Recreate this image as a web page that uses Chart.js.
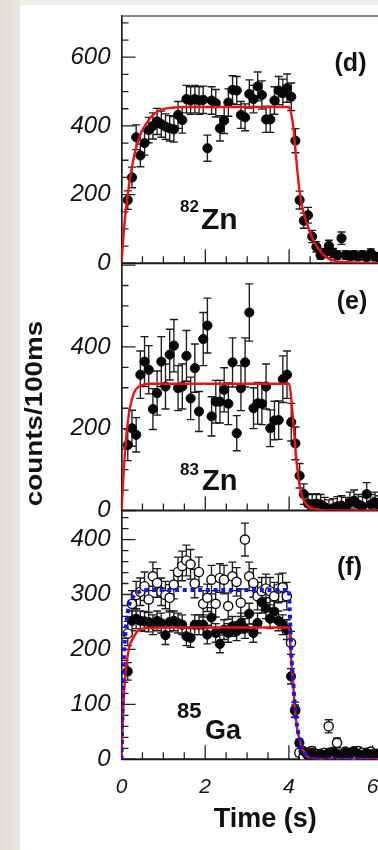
<!DOCTYPE html>
<html>
<head>
<meta charset="utf-8">
<script src="https://cdn.jsdelivr.net/npm/chart.js@4.4.1/dist/chart.umd.min.js"></script>
<style>
  html, body { margin: 0; padding: 0; }
  body { width: 378px; height: 850px; overflow: hidden; position: relative; background: #efeeea; }
  #strip { position: absolute; left: 0; top: 0; width: 20px; height: 850px; background: linear-gradient(90deg, #e0ddd3, #e8e6de); }
  #sheet { position: absolute; left: 20px; top: 5px; width: 420px; height: 845px; background: #fff; }
  canvas { position: absolute; left: 0; }
</style>
</head>
<body>
<div id="strip"></div>
<div id="sheet"></div>
<canvas id="panelD" width="415" height="290" style="top:0px"></canvas>
<canvas id="panelE" width="415" height="300" style="top:240px"></canvas>
<canvas id="panelF" width="415" height="360" style="top:490px"></canvas>
<script>
Chart.defaults.font.family = "'Liberation Sans', Arial, Helvetica, sans-serif";
Chart.defaults.color = '#151515';

// 100 ms bin centres (s)
const bins = [0.05, 0.15, 0.25, 0.35, 0.45, 0.55, 0.65, 0.75, 0.85, 0.95,
  1.05, 1.15, 1.25, 1.35, 1.45, 1.55, 1.65, 1.75, 1.85, 1.95,
  2.05, 2.15, 2.25, 2.35, 2.45, 2.55, 2.65, 2.75, 2.85, 2.95,
  3.05, 3.15, 3.25, 3.35, 3.45, 3.55, 3.65, 3.75, 3.85, 3.95,
  4.05, 4.15, 4.25, 4.35, 4.45, 4.55, 4.65, 4.75, 4.85, 4.95,
  5.05, 5.15, 5.25, 5.35, 5.45, 5.55, 5.65, 5.75, 5.85, 5.95,
  6.05, 6.15, 6.25, 6.35, 6.45, 6.55, 6.65, 6.75];

// (d) 82Zn
const zn82 = [null, 184, 250, 367, 314, 350, 388, 400, 413, 405,
  398, 393, 390, 432, 417, 478, 474, 478, 474, 476,
  335, 474, 466, 393, 416, 468, 505, 503, 432, 425,
  493, 478, 515, 490, 419, 419, 474, 503, 495, 510,
  485, 357, 184, 124, 140, 78, 48, 24, 30, 51,
  30, 24, 73, 24, 22, 24, 20, 24, 18, 29,
  20, 15, 22, 12, 18, 10, 14, 9];
const zn82Err = [null, 27, 30, 36, 33, 35, 37, 38, 38, 38,
  37, 37, 37, 39, 38, 40, 40, 40, 40, 40,
  38, 40, 40, 37, 38, 40, 41, 41, 39, 39,
  41, 40, 42, 41, 38, 38, 40, 41, 41, 41,
  40, 35, 26, 22, 23, 18, 15, 12, 13, 16,
  13, 12, 18, 12, 12, 12, 11, 12, 11, 13,
  11, 10, 12, 9, 11, 8, 10, 8];

// (e) 83Zn
const zn83 = [null, 160, 201, 185, 332, 364, 344, 248, 287, 364,
  303, 381, 403, 299, 303, 378, 274, 348, 242, 419,
  452, 230, 266, 266, 295, 261, 362, 189, 299, 362,
  484, 250, 262, 261, 303, 201, 220, 221, 321, 332,
  216, 164, 85, 40, 17, 15, 17, 15, 8, 2,
  5, 10, 12, 8, 20, 24, 15, 10, 40, 15,
  20, 12, 25, 8, 18, 10, 15, 6];
const zn83Err = [null, 38, 44, 42, 58, 61, 59, 50, 54, 61,
  55, 62, 64, 55, 55, 62, 52, 59, 49, 65,
  67, 48, 52, 52, 54, 51, 60, 43, 55, 60,
  70, 50, 51, 51, 55, 45, 47, 47, 57, 58,
  46, 40, 30, 25, 24, 24, 24, 24, 24, 24,
  24, 24, 24, 24, 25, 26, 24, 24, 28, 24,
  25, 24, 26, 24, 25, 24, 24, 24];

// (f) 85Ga, filled and open markers
const ga85Filled = [null, 160, 252, 256, 252, 251, 250, 245, 252, 248,
  226, 250, 252, 248, 245, 224, 221, 245, 245, 245,
  227, 258, 230, 210, 236, 230, 242, 233, 248, 238,
  265, 230, 248, 286, 275, 256, 269, 252, 245, 236,
  151, 88, 30, 15, 8, 12, 5, 10, 8, 12,
  14, 10, 6, 12, 8, 15, 10, 8, 12, 9,
  7, 11, 6, 9, 5, 8, 6, 4];
const ga85FilledErr = [null, 16, 18, 18, 18, 18, 18, 18, 18, 18,
  17, 18, 18, 18, 18, 17, 17, 18, 18, 18,
  17, 18, 17, 16, 18, 17, 18, 17, 18, 18,
  19, 17, 18, 20, 19, 18, 19, 18, 18, 18,
  14, 11, 7, 6, 5, 5, 4, 5, 5, 5,
  6, 5, 4, 5, 5, 6, 5, 5, 5, 5,
  4, 5, 4, 5, 4, 5, 4, 4];
const ga85Open = [null, 229, 283, 299, 305, 315, 291, 333, 321, 305,
  299, 294, 318, 341, 352, 362, 355, 320, 341, 283,
  294, 327, 283, 330, 327, 279, 333, 323, 285, 400,
  333, 321, 297, 306, 311, 306, 297, 311, 313, 297,
  212, 90, 12, 5, 8, 15, 10, 6, 12, 60,
  10, 30, 8, 14, 10, 6, 15, 12, 8, 14,
  10, 7, 12, 5, 9, 11, 6, 8];
const ga85OpenErr = [null, 22, 24, 25, 25, 26, 24, 26, 26, 25,
  25, 24, 26, 27, 27, 28, 27, 26, 27, 24,
  25, 26, 24, 26, 26, 24, 26, 26, 25, 30,
  26, 26, 25, 25, 26, 25, 25, 26, 26, 25,
  21, 14, 6, 4, 5, 7, 5, 4, 6, 12,
  5, 9, 5, 6, 5, 4, 7, 6, 5, 6,
  5, 4, 6, 4, 5, 5, 4, 5];

// fitted growth/decay curves
const fitDTime = [0, 0.05, 0.1, 0.15, 0.2, 0.25, 0.3, 0.4, 0.5, 0.6, 0.7, 0.8, 1.0, 1.2, 1.5, 2.0,
  4.0, 4.05, 4.1, 4.15, 4.2, 4.25, 4.3, 4.35, 4.45, 4.55, 4.7, 4.9, 5.1, 5.4, 6.0, 6.9];
const fitDValue = [0, 85, 150, 200, 245, 280, 312, 357, 388, 408, 425, 437, 449, 453, 455, 455,
  455, 435, 398, 330, 265, 210, 172, 145, 107, 74, 42, 16, 7, 3, 0.5, 0];
const fitETime = [0, 0.05, 0.1, 0.15, 0.2, 0.3, 0.4, 0.5, 0.7, 4.0, 4.04, 4.08, 4.12, 4.16, 4.2,
  4.25, 4.3, 4.37, 4.45, 4.55, 4.7, 5.0, 6.9];
const fitEValue = [0, 90, 165, 215, 250, 288, 302, 307, 310, 310, 285, 240, 190, 140, 100,
  62, 38, 21, 11, 5, 1.5, 0, 0];
const fitFRedTime = [0, 0.05, 0.1, 0.15, 0.2, 0.28, 0.35, 0.43, 0.6, 1.0, 4.0, 4.03, 4.06, 4.1,
  4.14, 4.2, 4.25, 4.3, 4.37, 4.45, 4.6, 5.0, 6.9];
const fitFRedValue = [0, 105, 160, 190, 208, 221, 230, 236, 239, 240, 240, 215, 175, 140,
  95, 55, 38, 24, 12, 4, 1, 0, 0];
const fitFBlueTime = [0, 0.03, 0.06, 0.1, 0.15, 0.2, 0.3, 0.4, 0.5, 0.7, 4.0, 4.02, 4.06, 4.1,
  4.14, 4.2, 4.25, 4.3, 4.37, 4.45, 4.6, 5.0, 6.9];
const fitFBlueValue = [0, 120, 190, 235, 268, 285, 298, 304, 307, 308, 308, 270, 190, 145,
  100, 58, 40, 25, 13, 4, 1, 0, 0];

// labelled axis values
const yTicksD = [0, 200, 400, 600];
const yTicksE = [0, 200, 400];
const yTicksF = [0, 100, 200, 300, 400];
const xTicks = [0, 2, 4, 6];

function markers(values, errors) {
  const out = [];
  values.forEach((v, i) => {
    if (v !== null) out.push({ x: bins[i], y: v, err: errors[i] });
  });
  return out;
}
function curve(ts, vs) {
  return ts.map((t, i) => ({ x: t, y: vs[i] }));
}

const RED = '#ee1111';
const BLUE = '#1414ee';

function fitLine(data, color, dashed) {
  return {
    data, showLine: true, pointRadius: 0, pointHoverRadius: 0,
    borderColor: color, borderWidth: dashed ? 4 : 2.4,
    borderDash: dashed ? [4, 3.7] : [], borderCapStyle: 'butt',
    cubicInterpolationMode: 'monotone', fill: false
  };
}
function dots(data, open) {
  return {
    data, withErrors: true,
    pointRadius: 4.6, pointHoverRadius: 0,
    pointBackgroundColor: open ? '#ffffff' : '#060606',
    pointBorderColor: '#0a0a0a', pointBorderWidth: open ? 1.4 : 1
  };
}

// inward ticks, frame lines, error bars and labels for one panel
const panelPlugin = {
  id: 'panel',
  beforeDatasetsDraw(chart, args, o) {
    const { ctx, chartArea: a, scales: { x, y } } = chart;
    ctx.save();
    ctx.beginPath();
    ctx.rect(a.left, a.top - 2, a.right - a.left, a.bottom - a.top + 2);
    ctx.clip();
    ctx.strokeStyle = '#1c1c1c';
    ctx.lineWidth = 1.35;
    chart.data.datasets.forEach(ds => {
      if (!ds.withErrors) return;
      ds.data.forEach(p => {
        const px = x.getPixelForValue(p.x);
        const hi = y.getPixelForValue(p.y + p.err);
        const lo = y.getPixelForValue(p.y - p.err);
        ctx.beginPath();
        ctx.moveTo(px, hi); ctx.lineTo(px, lo);
        ctx.moveTo(px - 4, hi); ctx.lineTo(px + 4, hi);
        ctx.moveTo(px - 4, lo); ctx.lineTo(px + 4, lo);
        ctx.stroke();
      });
    });
    ctx.restore();

    ctx.save();
    ctx.strokeStyle = '#222';
    ctx.lineWidth = 1.3;
    ctx.beginPath();
    for (let k = 0; k * o.yMinor <= y.max; k++) {
      const v = k * o.yMinor;
      const py = y.getPixelForValue(v);
      const len = v % o.yMajor === 0 ? 14 : 7;
      ctx.moveTo(a.left, py); ctx.lineTo(a.left + len, py);
    }
    for (let k = 0; k * 0.5 <= x.max; k++) {
      const px = x.getPixelForValue(k * 0.5);
      const len = k % 4 === 0 ? 14 : 7;
      ctx.moveTo(px, a.bottom); ctx.lineTo(px, a.bottom - len);
    }
    ctx.stroke();
    ctx.strokeStyle = '#1a1a1a';
    ctx.lineWidth = 2;
    ctx.beginPath();
    ctx.moveTo(a.left, a.bottom); ctx.lineTo(a.right, a.bottom);
    ctx.stroke();
    if (o.topLine) {
      ctx.strokeStyle = '#5a5a5a';
      ctx.lineWidth = 1.5;
      ctx.beginPath();
      ctx.moveTo(a.left, a.top); ctx.lineTo(a.right, a.top);
      ctx.stroke();
    }
    ctx.restore();
  },
  afterDraw(chart, args, o) {
    const { ctx } = chart;
    (o.notes || []).forEach(n => {
      ctx.save();
      ctx.font = n.font;
      ctx.fillStyle = '#111';
      ctx.textAlign = n.align || 'left';
      ctx.textBaseline = n.base || 'alphabetic';
      ctx.translate(n.x, n.y);
      if (n.rotate) ctx.rotate(n.rotate);
      if (n.stretch) ctx.scale(n.stretch, 1);
      ctx.fillText(n.text, 0, 0);
      ctx.restore();
    });
  }
};

function makePanel(id, cfg) {
  return new Chart(document.getElementById(id), {
    type: 'scatter',
    data: { datasets: cfg.datasets },
    options: {
      responsive: false,
      animation: false,
      devicePixelRatio: 1,
      events: [],
      layout: { padding: cfg.padding },
      plugins: { legend: { display: false }, tooltip: { enabled: false }, panel: cfg.panel },
      scales: {
        x: cfg.x,
        y: {
          min: 0, max: cfg.yMax,
          afterBuildTicks: s => { s.ticks = cfg.yTicks.map(v => ({ value: v })); },
          afterFit: s => { s.width = 121.5; s.paddingTop = 0; s.paddingBottom = 0; },
          grid: { display: false, drawTicks: false },
          border: { display: true, color: '#1e1e1e', width: 1.7 },
          ticks: {
            padding: 11, color: '#141414', font: { size: 24, style: 'italic' },
            callback: v => String(v)
          }
        }
      }
    },
    plugins: [panelPlugin]
  });
}

const hiddenX = { type: 'linear', min: 0, max: 6.87, display: false };

makePanel('panelD', {
  datasets: [fitLine(curve(fitDTime, fitDValue), RED, false), dots(markers(zn82, zn82Err), false)],
  padding: { top: 16, bottom: 26.7, left: 0, right: 0 },
  x: hiddenX,
  yMax: 720, yTicks: yTicksD,
  panel: {
    yMajor: 200, yMinor: 50, topLine: true,
    notes: [
      { text: '(d)', font: 'bold 25px "Liberation Sans", Arial', x: 350.5, y: 64.5, align: 'center', base: 'middle' },
      { text: '82', font: 'bold 17px "Liberation Sans", Arial', x: 180, y: 211.5 },
      { text: 'Zn', font: 'bold 30px "Liberation Sans", Arial', x: 201, y: 228.5 }
    ]
  }
});

makePanel('panelE', {
  datasets: [fitLine(curve(fitETime, fitEValue), RED, false), dots(markers(zn83, zn83Err), false)],
  padding: { top: 23, bottom: 29.5, left: 0, right: 0 },
  x: hiddenX,
  yMax: 605, yTicks: yTicksE,
  panel: {
    yMajor: 200, yMinor: 50,
    notes: [
      { text: '(e)', font: 'bold 25px "Liberation Sans", Arial', x: 352, y: 62.5, align: 'center', base: 'middle' },
      { text: '83', font: 'bold 17px "Liberation Sans", Arial', x: 180, y: 235 },
      { text: 'Zn', font: 'bold 29px "Liberation Sans", Arial', x: 202, y: 250 },
      { text: 'counts/100ms', font: 'bold 24px "Liberation Sans", Arial', x: 35.5, y: 173.5,
        align: 'center', base: 'middle', rotate: -Math.PI / 2, stretch: 1.16 }
    ]
  }
});

makePanel('panelF', {
  datasets: [
    fitLine(curve(fitFBlueTime, fitFBlueValue), BLUE, true),
    fitLine(curve(fitFRedTime, fitFRedValue), RED, false),
    dots(markers(ga85Filled, ga85FilledErr), false),
    dots(markers(ga85Open, ga85OpenErr), true)
  ],
  padding: { top: 21, bottom: 0, left: 0, right: 0 },
  x: {
    type: 'linear', min: 0, max: 6.87,
    afterBuildTicks: s => { s.ticks = xTicks.map(v => ({ value: v })); },
    afterFit: s => { s.height = 90.7; },
    grid: { display: false, drawTicks: false },
    border: { display: false },
    ticks: {
      padding: 15, maxRotation: 0,
      color: '#141414', font: { size: 21, style: 'italic' },
      callback: v => String(v)
    },
    title: {
      display: true, text: 'Time (s)', color: '#111',
      font: { size: 27, weight: 'bold' }, padding: { top: 0, bottom: 14 }
    }
  },
  yMax: 452, yTicks: yTicksF,
  panel: {
    yMajor: 100, yMinor: 20,
    notes: [
      { text: '(f)', font: 'bold 25px "Liberation Sans", Arial', x: 349.5, y: 78, align: 'center', base: 'middle' },
      { text: '85', font: 'bold 22px "Liberation Sans", Arial', x: 177, y: 228 },
      { text: 'Ga', font: 'bold 27px "Liberation Sans", Arial', x: 205, y: 249 }
    ]
  }
});
</script>
</body>
</html>
